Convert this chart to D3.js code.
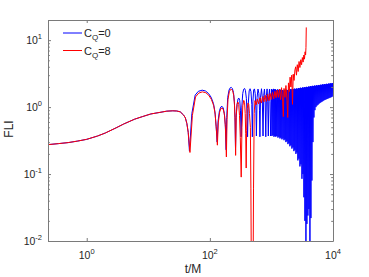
<!DOCTYPE html>
<html>
<head>
<meta charset="utf-8">
<script src="https://cdn.jsdelivr.net/npm/d3@7"></script>
<style>
body { margin: 0; background: #fff; }
svg { display: block; font-family: "Liberation Sans", Arial, Helvetica, sans-serif; }
</style>
</head>
<body>
<svg width="369" height="277"></svg>
<script>
// readings: [t/M, FLI]
// common start of both runs (curves lie on top of each other)
var early = [
    [0.235, 0.275], [0.35, 0.285], [0.5, 0.295], [0.7, 0.31], [1, 0.33], [1.5, 0.37],
    [2, 0.41], [3, 0.49], [4, 0.56], [6, 0.66], [8, 0.72], [11, 0.79], [15, 0.83],
    [20, 0.87], [25, 0.88], [29, 0.875], [33, 0.85], [37.5, 0.76], [40, 0.69],
    [42.3, 0.57], [44.5, 0.42]
];

// C_Q = 0 : arches
var blueArches = [
    [46.6, 0.22], [51, 0.80], [57.7, 1.51], [65, 1.72], [75, 1.79], [85, 1.74], [95, 1.60],
    [105, 1.40], [114.5, 1.13], [121, 0.85], [126.5, 0.51], [131.4, 0.30],
    [136, 0.62], [143, 0.88], [150, 1.0], [157, 1.03], [165, 0.97], [172, 0.80], [178, 0.55], [184, 0.23],
    [188, 0.7], [195, 1.4], [205, 1.8], [215, 1.95], [223, 1.97], [232, 1.9], [242, 1.65], [250, 1.2],
    [256, 0.7], [261, 0.24],
    [267, 0.7], [277, 1.1], [287, 1.33], [297, 1.36], [306, 1.25], [314, 0.9], [322, 0.36],
    [330, 1.0], [342, 1.6], [354, 1.85], [366, 1.9], [378, 1.78], [392, 1.35], [402, 0.8], [410, 0.36],
    [420, 1.1], [435, 1.75], [450, 1.88], [465, 1.7], [480, 1.1], [490, 0.36],
    [500, 1.2], [515, 1.8], [530, 1.87], [545, 1.6], [560, 0.9], [570, 0.37],
    [585, 1.4], [605, 1.86], [625, 1.6], [640, 0.9], [650, 0.36],
    [665, 1.4], [690, 1.88], [710, 1.4], [730, 0.37],
    [750, 1.5], [770, 1.86], [790, 1.3], [810, 0.36],
    [830, 1.5], [850, 1.87], [870, 1.2], [890, 0.37],
    [910, 1.5], [930, 1.85], [950, 1.2], [970, 0.37]
];

// C_Q = 0 : dense part, tops and bottoms of the oscillation
var bluePeaks = [
    [1000, 1.86], [1040, 1.82], [1080, 1.87], [1120, 1.84], [1160, 1.85], [1200, 1.8], [1250, 1.84],
    [1300, 1.81], [1350, 1.78], [1400, 1.82], [1450, 1.79], [1510, 1.8], [1570, 1.77], [1630, 1.81],
    [1690, 1.78], [1750, 1.82], [1820, 1.8], [1890, 1.84], [1960, 1.82], [2030, 1.86], [2110, 1.84],
    [2190, 1.87], [2280, 1.85], [2360, 1.89], [2450, 1.87], [2550, 1.9], [2640, 1.88], [2740, 1.93],
    [2850, 1.91], [2960, 1.95], [3070, 1.93], [3190, 1.97], [3310, 1.95], [3430, 1.99], [3570, 1.97],
    [3700, 2.01], [3840, 1.99], [3990, 2.03], [4140, 2.02], [4300, 2.06], [4460, 2.04], [4630, 2.08],
    [4810, 2.06], [4990, 2.1], [5180, 2.08], [5380, 2.12], [5580, 2.1], [5800, 2.14], [6020, 2.12],
    [6250, 2.16], [6480, 2.15], [6730, 2.19], [6990, 2.17], [7250, 2.21], [7530, 2.19], [7820, 2.23],
    [8120, 2.21], [8420, 2.25], [8750, 2.24], [9080, 2.27], [9420, 2.26], [9780, 2.29]
];
var blueDips = [
    [1020, 0.37], [1060, 0.38], [1100, 0.36], [1140, 0.37], [1180, 0.36], [1225, 0.37], [1275, 0.35],
    [1325, 0.36], [1375, 0.34], [1425, 0.35], [1480, 0.33], [1540, 0.34], [1600, 0.32], [1660, 0.33],
    [1720, 0.30], [1785, 0.31], [1855, 0.28], [1925, 0.29], [1995, 0.26], [2070, 0.27], [2150, 0.24],
    [2235, 0.25], [2320, 0.22], [2405, 0.23], [2500, 0.2], [2595, 0.21], [2690, 0.16], [2795, 0.17],
    [2905, 0.13], [3015, 0.14], [3130, 0.085], [3250, 0.1], [3370, 0.045], [3500, 0.02], [3635, 0.006],
    [3770, 0.018], [3915, 0.024], [4065, 0.03], [4220, 0.006], [4380, 0.022], [4545, 0.08], [4720, 0.3],
    [4900, 0.7], [5085, 0.9], [5280, 1.0], [5480, 1.05], [5690, 1.08], [5910, 1.12], [6135, 1.15],
    [6365, 1.18], [6605, 1.2], [6860, 1.23], [7120, 1.26], [7390, 1.28], [7675, 1.3], [7970, 1.32],
    [8270, 1.34], [8585, 1.36], [8915, 1.38], [9250, 1.4], [9600, 1.42], [9950, 1.45]
];

// C_Q = 8
var redLate = [
    [47.5, 0.21], [52, 0.75], [58.5, 1.42], [66, 1.62], [75.5, 1.69], [86, 1.64], [96, 1.50],
    [106, 1.30], [115.5, 1.05], [122, 0.78], [127.5, 0.47], [132.5, 0.27],
    [137, 0.58], [144, 0.84], [151, 0.95], [158, 0.97], [166, 0.91], [173, 0.75], [179, 0.5], [185.5, 0.18],
    [190, 0.65], [197, 1.3], [207, 1.7], [217, 1.83], [225, 1.84], [234, 1.76], [244, 1.5], [251, 1.1],
    [257, 0.6], [262, 0.19],
    [268, 0.75], [276, 1.1], [285, 1.19], [294, 1.1], [303, 0.75], [312, 0.35], [323, 0.09],
    [332, 0.5], [343, 1.05], [355, 1.26], [366, 1.18], [375, 0.8], [382, 0.4], [389, 0.123],
    [396, 0.45], [405, 0.95], [417, 1.15], [428, 1.1], [440, 0.8], [455, 0.5], [464, 0.06],
    [488, 0.00001], [512, 0.06], [525, 0.8],
    [540, 1.25], [565, 1.08], [590, 1.32], [620, 1.12], [650, 1.38], [685, 1.15], [720, 1.43],
    [755, 1.2], [790, 1.5], [830, 1.22], [870, 1.55], [910, 1.25], [950, 1.6], [995, 1.3],
    [1040, 1.66], [1090, 1.33], [1140, 1.72], [1190, 1.38], [1240, 1.8], [1295, 1.4], [1350, 1.86],
    [1405, 1.3], [1460, 1.95], [1520, 1.2], [1560, 0.72], [1600, 1.9], [1660, 1.4], [1720, 2.1],
    [1790, 1.25], [1840, 0.7], [1890, 2.3], [1950, 1.7], [2010, 2.8], [2070, 2.0], [2140, 3.0],
    [2200, 1.1], [2260, 3.1], [2330, 2.5], [2410, 3.6], [2480, 4.0], [2550, 3.0], [2630, 4.3],
    [2720, 3.4], [2810, 4.8], [2900, 3.9], [3000, 5.1], [3090, 4.3], [3180, 5.5], [3270, 4.7],
    [3360, 6.0], [3440, 5.2], [3520, 6.7], [3590, 6.0], [3640, 7.8], [3680, 15.5]
];

var seriesNames = ["0", "8"];
var seriesColors = ["#0000ff", "#ff0000"];

var xTicks = [1, 100, 10000],
    xTickExp = ["0", "2", "4"];
var yTicks = [0.01, 0.1, 1, 10],
    yTickExp = ["-2", "-1", "0", "1"];

var svg = d3.select("svg"),
    mLeft = 48, mRight = 333, mTop = 20, mBottom = 241,
    axisColor = "#7a7a7a",
    textColor = "#262626";

var x = d3.scaleLog().domain([0.235, 1e4]).range([mLeft, mRight]);
var y = d3.scaleLog().domain([0.01, 20]).range([mBottom, mTop]);

var blueDense = bluePeaks.concat(blueDips).sort(function (a, b) { return a[0] - b[0]; });
var series = [
    early.concat(blueArches, blueDense),
    early.concat(redLate)
];

svg.append("defs").append("clipPath").attr("id", "clip")
    .append("rect")
    .attr("x", mLeft).attr("y", mTop)
    .attr("width", mRight - mLeft).attr("height", mBottom - mTop);

var line = d3.line()
    .x(function (d) { return x(d[0]); })
    .y(function (d) { return y(d[1]); });

svg.append("g").attr("clip-path", "url(#clip)")
    .selectAll("path")
    .data(series)
    .enter().append("path")
    .attr("d", line)
    .attr("fill", "none")
    .attr("stroke", function (d, i) { return seriesColors[i]; })
    .attr("stroke-width", 1)
    .attr("stroke-linejoin", "round");

// minor ticks on the y axis
var yMinor = [];
yTicks.forEach(function (dec) {
    for (var k = 2; k <= 9; k++) {
        if (k * dec <= 20) yMinor.push(k * dec);
    }
});

function styleAxis(g) {
    g.select(".domain").attr("stroke", axisColor);
    g.selectAll(".tick line").attr("stroke", axisColor);
    g.selectAll(".tick text").remove();
}

svg.append("g").attr("transform", "translate(0," + mBottom + ")")
    .call(d3.axisBottom(x).tickValues(xTicks).tickSize(-3).tickSizeOuter(0)).call(styleAxis);
svg.append("g").attr("transform", "translate(0," + mTop + ")")
    .call(d3.axisTop(x).tickValues(xTicks).tickSize(-3).tickSizeOuter(0)).call(styleAxis);
svg.append("g").attr("transform", "translate(" + mLeft + ",0)")
    .call(d3.axisLeft(y).tickValues(yTicks).tickSize(-3).tickSizeOuter(0)).call(styleAxis);
svg.append("g").attr("transform", "translate(" + mRight + ",0)")
    .call(d3.axisRight(y).tickValues(yTicks).tickSize(-3).tickSizeOuter(0)).call(styleAxis);
svg.append("g").attr("transform", "translate(" + mLeft + ",0)")
    .call(d3.axisLeft(y).tickValues(yMinor).tickSize(-1.8).tickSizeOuter(0)).call(styleAxis)
    .select(".domain").remove();
svg.append("g").attr("transform", "translate(" + mRight + ",0)")
    .call(d3.axisRight(y).tickValues(yMinor).tickSize(-1.8).tickSizeOuter(0)).call(styleAxis)
    .select(".domain").remove();

// tick labels as 10^n
var xl = svg.append("g").attr("font-size", 10.5).attr("fill", textColor);
xTicks.forEach(function (v, i) {
    var t = xl.append("text").attr("x", x(v)).attr("y", 259).attr("text-anchor", "middle");
    t.append("tspan").text("10");
    t.append("tspan").attr("font-size", 7.5).attr("dy", -5).text(xTickExp[i]);
});
var yl = svg.append("g").attr("font-size", 10.5).attr("fill", textColor);
yTicks.forEach(function (v, i) {
    var t = yl.append("text").attr("x", 42).attr("y", y(v) + 4).attr("text-anchor", "end");
    t.append("tspan").text("10");
    t.append("tspan").attr("font-size", 7.5).attr("dy", -5).text(yTickExp[i]);
});

svg.append("text").attr("x", 193).attr("y", 273).attr("text-anchor", "middle")
    .attr("font-size", 12).attr("fill", textColor).text("t/M");
svg.append("text").attr("transform", "translate(13,129) rotate(-90)").attr("text-anchor", "middle")
    .attr("font-size", 12).attr("fill", textColor).text("FLI");

// legend
var leg = svg.append("g").selectAll("g")
    .data(seriesNames)
    .enter().append("g")
    .attr("transform", function (d, i) { return "translate(0," + (33 + i * 17.5) + ")"; });
leg.append("line")
    .attr("x1", 63).attr("x2", 82).attr("y1", 0).attr("y2", 0)
    .attr("stroke", function (d, i) { return seriesColors[i]; })
    .attr("stroke-width", 1);
var lt = leg.append("text").attr("x", 84).attr("y", 4).attr("font-size", 11).attr("fill", textColor);
lt.append("tspan").text("C");
lt.append("tspan").attr("font-size", 8).attr("dy", 3).text("Q");
lt.append("tspan").attr("dy", -3).text(function (d) { return "=" + d; });
</script>
</body>
</html>
